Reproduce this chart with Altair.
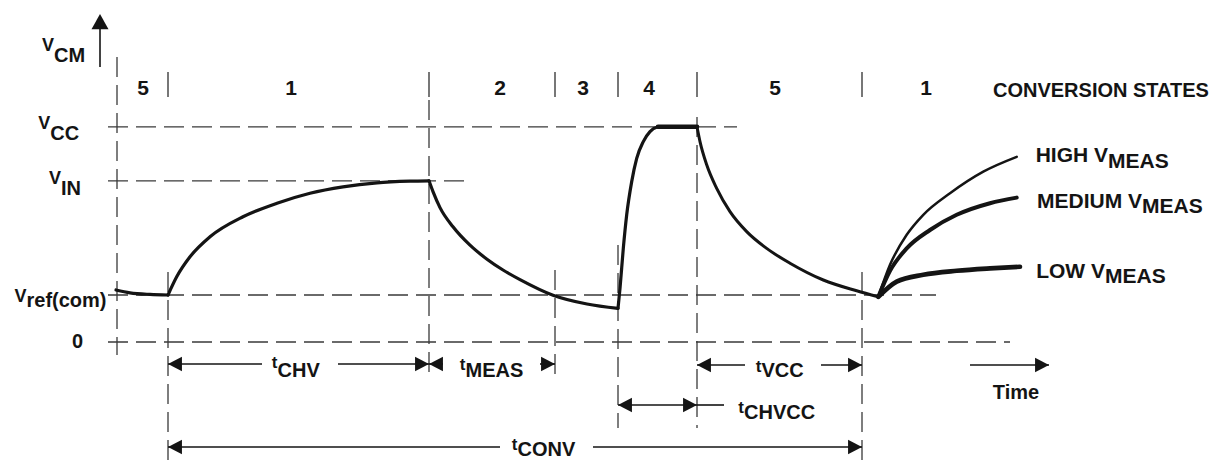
import altair as alt
import pandas as pd

# ---------------- values ----------------
# time axis in arbitrary units, voltage axis in arbitrary units

# horizontal reference levels: VCC, VIN, Vref(com), 0
LEVEL_V = [5.38, 4.03, 1.175, 0.0]
LEVEL_T_START = [-6.0, -6.0, -6.0, -6.0]
LEVEL_T_END = [56.9, 30.1, 76.8, 84.2]

# conversion-state boundaries
STATE_T = [-5.1, 0.0, 26.1, 38.7, 45.0, 52.9, 69.4]
BOUND_V_TOP = [7.125, 1.75, 6.05, 1.8, 2.425, 5.625, 1.75]
BOUND_V_BOTTOM = [-0.325, -3.0, -0.95, -0.95, -2.15, -2.15, -3.0]
TICK_V_TOP = 6.75
TICK_V_BOTTOM = 6.125

STATE_NAMES = ["5", "1", "2", "3", "4", "5", "1"]
STATE_NAME_T = [-2.5, 12.3, 33.2, 41.5, 48.1, 60.7, 75.8]
STATE_NAME_V = 6.175

# waveform V_CM, read point by point
SEG_START_T = [-5.2, -3.8, -1.8, 0.0]
SEG_START_V = [1.30, 1.23, 1.19, 1.175]
SEG_CHARGE_T = [0.0, 0.87, 2.2, 4.2, 7.5, 10.9, 14.2, 17.5, 20.9, 24.2, 26.1]
SEG_CHARGE_V = [1.175, 1.63, 2.13, 2.63, 3.13, 3.47, 3.72, 3.88, 3.98, 4.02, 4.03]
SEG_MEAS_T = [26.1, 26.5, 27.2, 28.5, 30.2, 31.9, 33.5, 35.2, 38.5, 41.9, 45.0]
SEG_MEAS_V = [4.03, 3.76, 3.36, 2.88, 2.42, 2.07, 1.80, 1.56, 1.17, 0.95, 0.84]
SEG_RISE_T = [45.0, 45.2, 45.53, 45.87, 46.37, 46.87, 47.53, 48.2, 48.87, 49.3]
SEG_RISE_V = [0.84, 1.34, 2.34, 3.18, 4.01, 4.59, 5.01, 5.26, 5.37, 5.38]
SEG_FLAT_T = [49.0, 52.9]
SEG_FLAT_V = [5.38, 5.38]
SEG_VCC_T = [52.9, 53.2, 53.87, 54.87, 56.2, 57.87, 59.87, 62.2, 65.53, 68.87, 71.03]
SEG_VCC_V = [5.38, 5.01, 4.43, 3.84, 3.26, 2.76, 2.34, 1.97, 1.55, 1.28, 1.13]
SEG_HIGH_T = [71.03, 72.2, 73.87, 75.53, 78.2, 81.53, 84.87]
SEG_HIGH_V = [1.13, 1.93, 2.68, 3.18, 3.72, 4.26, 4.63]
SEG_MED_T = [71.03, 72.2, 73.87, 76.2, 78.87, 82.2, 84.87]
SEG_MED_V = [1.13, 1.78, 2.34, 2.80, 3.18, 3.47, 3.61]
SEG_LOW_T = [71.03, 72.87, 75.53, 78.87, 82.2, 85.2]
SEG_LOW_V = [1.13, 1.51, 1.68, 1.78, 1.84, 1.88]

# timing arrows
ARROW_V = [-0.55, -0.55, -0.575, -1.575, -2.625, -0.575]
ARROW_T0 = [0.0, 26.1, 52.9, 45.0, 0.0, 80.2]
ARROW_T1 = [26.1, 38.7, 69.4, 52.9, 69.4, 88.1]
ARROW_GAP_T0 = [9.4, 27.5, 57.7, None, 33.2, None]
ARROW_GAP_T1 = [17.0, 37.2, 65.3, None, 42.5, None]
ARROW_HEAD_LEFT = [True, True, True, True, True, False]
LEADER_T = [52.9, 55.6]
LEADER_V = -1.575

# vertical axis arrow
AXIS_T = -6.8
AXIS_V = [6.875, 7.85]
AXIS_TIP_V = 8.2

# labels with subscripts: main text, subscript, joint time, baselines
AX_MAIN = ["V", "V", "V", "V"]
AX_SUB = ["CM", "CC", "IN", "ref(com)"]
AX_T = [-11.4, -11.77, -10.7, -14.15]
AX_V_MAIN = [7.28, 5.33, 3.955, 0.99]
AX_V_SUB = [7.0, 5.05, 3.675, 0.87]

DIM_MAIN = ["t", "t", "t", "t", "t"]
DIM_SUB = ["CHV", "MEAS", "VCC", "CHVCC", "CONV"]
DIM_T = [10.95, 29.75, 59.35, 57.6, 34.95]
DIM_V_MAIN = [-0.66, -0.7, -0.75, -1.775, -2.7]
DIM_V_SUB = [-0.875, -0.875, -0.875, -1.925, -2.85]

CURVE_MAIN = ["HIGH V", "MEDIUM V", "LOW V"]
CURVE_SUB = ["MEAS", "MEAS", "MEAS"]
CURVE_T = [94.0, 97.4, 93.7]
CURVE_V_MAIN = [4.5, 3.35, 1.6]
CURVE_V_SUB = [4.35, 3.225, 1.475]

ZERO_LABEL = ["0"]
ZERO_T = [-9.05]
ZERO_V = [-0.16]
TITLE_TEXT = ["CONVERSION STATES"]
TITLE_T = [82.5]
TITLE_V = [6.13]
TIME_TEXT = ["Time"]
TIME_T = [84.8]
TIME_V = [-1.43]

# ---------------- styles ----------------
FONT = "Liberation Sans"
INK = "#141414"
DASH_COL = "#3a3a3a"
DASH = [20, 8]
PATH_RIGHT = "M0,0L-1.9,-1L-1.9,1Z"
PATH_LEFT = "M0,0L1.9,-1L1.9,1Z"
PATH_UP = "M0,0L-1,1.8L1,1.8Z"
SEG_WIDTH = {"start": 3.2, "charge": 3.2, "meas": 3.2, "rise": 3.2, "flat": 4.6,
             "vcc": 3.0, "high": 2.5, "med": 4.0, "low": 4.6}

xs = alt.Scale(domain=[-16, 105], nice=False, zero=False)
ys = alt.Scale(domain=[-2.95, 8.35], nice=False, zero=False)


def X(f):
    return alt.X(f, type="quantitative", scale=xs, axis=None)


def Y(f):
    return alt.Y(f, type="quantitative", scale=ys, axis=None)


# ---------------- tables ----------------
levels = pd.DataFrame({"t0": LEVEL_T_START, "t1": LEVEL_T_END, "v": LEVEL_V})
bounds = pd.DataFrame({"t": STATE_T, "v0": BOUND_V_TOP, "v1": BOUND_V_BOTTOM})
ticks = pd.DataFrame({"t": STATE_T[1:], "v0": TICK_V_TOP, "v1": TICK_V_BOTTOM})
state_lbl = pd.DataFrame({"t": STATE_NAME_T, "v": STATE_NAME_V, "txt": STATE_NAMES})

segs = {
    "start": (SEG_START_T, SEG_START_V), "charge": (SEG_CHARGE_T, SEG_CHARGE_V),
    "meas": (SEG_MEAS_T, SEG_MEAS_V), "rise": (SEG_RISE_T, SEG_RISE_V),
    "flat": (SEG_FLAT_T, SEG_FLAT_V), "vcc": (SEG_VCC_T, SEG_VCC_V),
    "high": (SEG_HIGH_T, SEG_HIGH_V), "med": (SEG_MED_T, SEG_MED_V),
    "low": (SEG_LOW_T, SEG_LOW_V),
}
rows = []
for name, (ts, vs) in segs.items():
    for i, (t, v) in enumerate(zip(ts, vs)):
        rows.append({"seg": name, "i": i, "t": t, "v": v, "w": SEG_WIDTH[name]})
wave = pd.DataFrame(rows)

arrow_rows, head_rows = [], []
for v, t0, t1, g0, g1, hl in zip(ARROW_V, ARROW_T0, ARROW_T1, ARROW_GAP_T0,
                                  ARROW_GAP_T1, ARROW_HEAD_LEFT):
    if g0 is None:
        arrow_rows.append({"t0": t0, "t1": t1, "v": v})
    else:
        arrow_rows.append({"t0": t0, "t1": g0, "v": v})
        arrow_rows.append({"t0": g1, "t1": t1, "v": v})
    if hl:
        head_rows.append({"t": t0, "v": v, "d": "left"})
    head_rows.append({"t": t1, "v": v, "d": "right"})
arrow_rows.append({"t0": LEADER_T[0], "t1": LEADER_T[1], "v": LEADER_V})
arrows = pd.DataFrame(arrow_rows)
heads = pd.DataFrame(head_rows)

axis_line = pd.DataFrame({"t": [AXIS_T], "v0": [AXIS_V[0]], "v1": [AXIS_V[1]]})
axis_tip = pd.DataFrame({"t": [AXIS_T], "v": [AXIS_TIP_V]})


def sub_table(main, sub, t, vm, vs, fm, fs):
    return pd.DataFrame({"main": main, "sub": sub, "t": t, "vm": vm, "vs": vs,
                         "fm": fm, "fs": fs})


lbl = pd.concat([
    sub_table(AX_MAIN, AX_SUB, AX_T, AX_V_MAIN, AX_V_SUB, 18, 20),
    sub_table(DIM_MAIN, DIM_SUB, DIM_T, DIM_V_MAIN, DIM_V_SUB, 17, 20),
    sub_table(CURVE_MAIN, CURVE_SUB, CURVE_T, CURVE_V_MAIN, CURVE_V_SUB, 21, 21),
], ignore_index=True)

centered = pd.DataFrame({"t": ZERO_T + TIME_T, "v": ZERO_V + TIME_V,
                         "txt": ZERO_LABEL + TIME_TEXT})
title = pd.DataFrame({"t": TITLE_T, "v": TITLE_V, "txt": TITLE_TEXT})

# ---------------- layers ----------------
txt_kw = dict(font=FONT, fontWeight="bold", color=INK, baseline="alphabetic")

layers = [
    alt.Chart(levels).mark_rule(color=DASH_COL, strokeWidth=1.3, strokeDash=DASH)
    .encode(x=X("t0"), x2="t1", y=Y("v")),
    alt.Chart(bounds).mark_rule(color=DASH_COL, strokeWidth=1.3, strokeDash=DASH)
    .encode(x=X("t"), y=Y("v0"), y2="v1"),
    alt.Chart(ticks).mark_rule(color="#4a4a4a", strokeWidth=1.5)
    .encode(x=X("t"), y=Y("v0"), y2="v1"),
    alt.Chart(axis_line).mark_rule(color=INK, strokeWidth=1.6)
    .encode(x=X("t"), y=Y("v0"), y2="v1"),
    alt.Chart(axis_tip).mark_point(shape=PATH_UP, size=289, filled=True, opacity=1,
                                   color=INK, strokeWidth=0)
    .encode(x=X("t"), y=Y("v")),
    alt.Chart(wave).mark_line(color=INK, interpolate="monotone", strokeCap="round",
                              strokeJoin="round")
    .encode(x=X("t"), y=Y("v"), detail="seg:N", order="i:Q",
            strokeWidth=alt.StrokeWidth("w:Q", scale=None)),
    alt.Chart(arrows).mark_rule(color=INK, strokeWidth=1.6)
    .encode(x=X("t0"), x2="t1", y=Y("v")),
    alt.Chart(heads[heads.d == "right"]).mark_point(shape=PATH_RIGHT, size=216, filled=True,
                                                    opacity=1, color=INK, strokeWidth=0)
    .encode(x=X("t"), y=Y("v")),
    alt.Chart(heads[heads.d == "left"]).mark_point(shape=PATH_LEFT, size=216, filled=True,
                                                   opacity=1, color=INK, strokeWidth=0)
    .encode(x=X("t"), y=Y("v")),
    alt.Chart(state_lbl).mark_text(align="center", fontSize=21, **txt_kw)
    .encode(x=X("t"), y=Y("v"), text="txt:N"),
    alt.Chart(title).mark_text(align="left", fontSize=20, **txt_kw)
    .encode(x=X("t"), y=Y("v"), text="txt:N"),
    alt.Chart(centered).mark_text(align="center", fontSize=20, **txt_kw)
    .encode(x=X("t"), y=Y("v"), text="txt:N"),
    alt.Chart(lbl).mark_text(align="right", **txt_kw)
    .encode(x=X("t"), y=Y("vm"), text="main:N", size=alt.Size("fm:Q", scale=None)),
    alt.Chart(lbl).mark_text(align="left", **txt_kw)
    .encode(x=X("t"), y=Y("vs"), text="sub:N", size=alt.Size("fs:Q", scale=None)),
]

chart = (
    alt.layer(*layers)
    .properties(width=1210, height=452, padding=0,
                autosize=alt.AutoSizeParams(type="none"), background="white")
    .configure_view(stroke=None)
)

chart.save("out.html", embed_options={"renderer": "svg", "actions": False})
